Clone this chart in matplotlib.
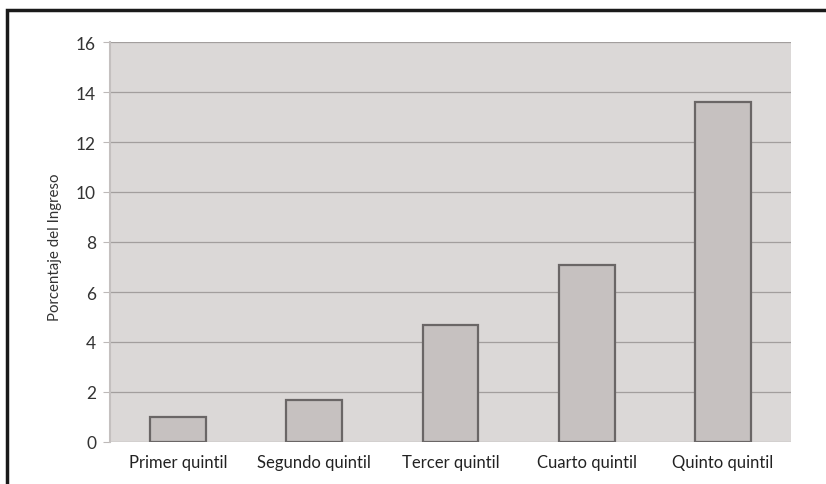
import numpy as np
import matplotlib.pyplot as plt
from matplotlib.patches import Rectangle

# participación en el ingreso por quintil
quintiles = ['Primer quintil', 'Segundo quintil', 'Tercer quintil',
             'Cuarto quintil', 'Quinto quintil']
porcentaje = [1.0, 1.7, 4.7, 7.1, 13.6]
yticks = [0, 2, 4, 6, 8, 10, 12, 14, 16]

plt.rcParams['font.family'] = ['Lato', 'DejaVu Sans']

fig = plt.figure(figsize=(8.26, 4.85), dpi=100)
W, H = 826, 485
ax = fig.add_axes([110 / W, 1 - 443 / H, 681 / W, 400 / H])

ax.set_facecolor('#dbd8d7')
x = np.arange(len(quintiles))
ax.bar(x, porcentaje, width=0.41, color='#c6c1c0', edgecolor='#6a6666',
       linewidth=1.6, zorder=3)

ax.set_xlim(-0.5, len(quintiles) - 0.5)
ax.set_ylim(0, 16)
ax.set_yticks(yticks)
ax.set_yticklabels([str(v) for v in yticks])
ax.set_xticks(x)
ax.set_xticklabels(quintiles)
ax.grid(axis='y', color='#a29e9d', linewidth=0.9, zorder=1)

for s in ['top', 'right', 'bottom']:
    ax.spines[s].set_visible(False)
ax.spines['left'].set_color('#c4c0bf')
ax.spines['left'].set_linewidth(1.5)

ax.tick_params(axis='y', length=5, color='#bdb9b8', labelsize=12.5,
               labelcolor='#333333', pad=5)
ax.tick_params(axis='x', length=0, labelsize=12, labelcolor='#222222', pad=9)
ax.set_ylabel('Porcentaje del Ingreso', fontsize=10.8, color='#333333')
ax.yaxis.set_label_coords(-0.07, 0.49)

# marco negro alrededor del gráfico
fig.patches.append(Rectangle((7 / W, -0.1), 1.2, 1 - 11 / H + 0.1,
                             transform=fig.transFigure, fill=False,
                             edgecolor='#1a1a1a', linewidth=2.5))

fig.savefig('out.png', dpi=100, facecolor='white')
